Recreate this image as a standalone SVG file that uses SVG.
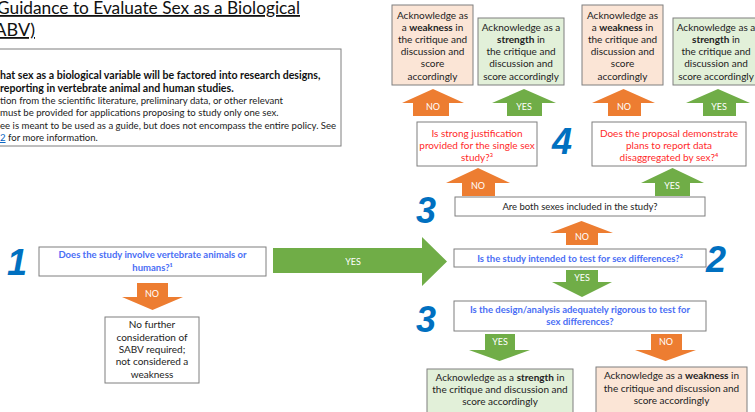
<svg xmlns="http://www.w3.org/2000/svg" width="755" height="412" viewBox="0 0 755 412">
<defs>
<style>
text{font-family:Lato,"Liberation Sans",sans-serif;}
.box{fill:#fff;stroke:#7f7f7f;stroke-width:1;}
.weak{fill:#fbe5d6;stroke:#7f7f7f;stroke-width:1;}
.str{fill:#e2f0d9;stroke:#7f7f7f;stroke-width:1;}
.t{font-size:10px;fill:#222;text-anchor:middle;}
.q{font-size:9.5px;fill:#4a6ef5;font-weight:bold;text-anchor:middle;}
.r{font-size:10px;fill:#ff2a2a;text-anchor:middle;}
.num{font-family:"Liberation Sans",Arial,sans-serif;font-size:36px;font-weight:bold;font-style:italic;fill:#0070c0;}
.lbl{font-size:9px;fill:#fff;text-anchor:middle;}
.o{fill:#ed7d31;}
.g{fill:#70ad47;}
.b{font-weight:bold;}
.info{font-size:9.6px;fill:#222;}
</style>
</defs>
<rect width="755" height="412" fill="#fff"/>

<g id="title">
<text x="-3" y="14" style="font-size:18px;fill:#111;" textLength="303" lengthAdjust="spacingAndGlyphs" text-decoration="underline">Guidance to Evaluate Sex as a Biological</text>
<text x="35" y="36" style="font-size:18px;fill:#111;" text-anchor="end" text-decoration="underline">(SABV)</text>
</g>

<g id="info">
<rect x="-5" y="49" width="346" height="97" class="box"/>
<text x="0" y="79" style="font-size:10.6px;font-weight:bold;fill:#111;">hat sex as a biological variable will be factored into research designs,</text>
<text x="0" y="92" style="font-size:10.6px;font-weight:bold;fill:#111;"> reporting in vertebrate animal and human studies.</text>
<text x="0" y="104" class="info">tion from the scientific literature, preliminary data, or other relevant</text>
<text x="0" y="116" class="info"> must be provided for applications proposing to study only one sex.</text>
<text x="0" y="129" class="info">ee is meant to be used as a guide, but does not encompass the entire policy. See</text>
<text x="0" y="141" class="info"><tspan fill="#0563c1" text-decoration="underline">2</tspan> for more information.</text>
</g>

<g id="connectors">
<polygon class="o" points="433,89 464,103 449,103 449,116 413,116 413,103 402,103"/>
<text class="lbl" x="433" y="110">NO</text>
<polygon class="g" points="524,89 556,103 542,103 542,116 507,116 507,103 492,103"/>
<text class="lbl" x="524" y="110">YES</text>
<polygon class="o" points="623.5,89 655,103 641,103 641,116 608,116 608,103 592,103"/>
<text class="lbl" x="624" y="110">NO</text>
<polygon class="g" points="718,89 750,103 736,103 736,116 703,116 703,103 686,103"/>
<text class="lbl" x="719" y="110">YES</text>
<polygon class="o" points="478,168 510,183 495,183 495,196 462,196 462,183 446,183"/>
<text class="lbl" x="478" y="189">NO</text>
<polygon class="g" points="672.5,168 704,183 690,183 690,196 655,196 655,183 641,183"/>
<text class="lbl" x="672" y="189">YES</text>
<polygon class="o" points="581.5,221 613,233 598,233 598,245 566,245 566,233 550,233"/>
<text class="lbl" x="582" y="240">NO</text>
<polygon class="g" points="566,270 598,270 598,282 612,282 582,297 552,282 566,282"/>
<text class="lbl" x="582" y="281">YES</text>
<polygon class="g" points="485,334 515,334 515,350 530,350 499.5,361 469,350 485,350"/>
<text class="lbl" x="500" y="345">YES</text>
<polygon class="o" points="651,334 682,334 682,350 696,350 665.5,361 635,350 651,350"/>
<text class="lbl" x="666" y="345">NO</text>
<polygon class="g" points="273,248 422,248 422,237 447,261.5 422,286 422,273 273,273"/>
<text class="lbl" x="353" y="265">YES</text>
<polygon class="o" points="137,283 168,283 168,297 183,297 152.5,310 122,297 137,297"/>
<text class="lbl" x="152" y="297">NO</text>
</g>

<g id="weak1">
<rect x="392" y="5" width="81" height="80" class="weak"/>
<text class="t" x="432.5" y="19">Acknowledge as</text>
<text class="t" x="432.5" y="31">a <tspan class="b">weakness</tspan> in</text>
<text class="t" x="432.5" y="43">the critique and</text>
<text class="t" x="432.5" y="55">discussion and</text>
<text class="t" x="432.5" y="67">score</text>
<text class="t" x="432.5" y="80">accordingly</text>
</g>
<g id="strength1">
<rect x="478" y="18" width="86" height="67" class="str"/>
<text class="t" x="521" y="31">Acknowledge as a</text>
<text class="t" x="521" y="43"><tspan class="b">strength</tspan> in</text>
<text class="t" x="521" y="55">the critique and</text>
<text class="t" x="521" y="67">discussion and</text>
<text class="t" x="521" y="80">score accordingly</text>
</g>
<g id="weak2">
<rect x="582" y="5" width="81" height="80" class="weak"/>
<text class="t" x="622.5" y="19">Acknowledge as</text>
<text class="t" x="622.5" y="31">a <tspan class="b">weakness</tspan> in</text>
<text class="t" x="622.5" y="43">the critique and</text>
<text class="t" x="622.5" y="55">discussion and</text>
<text class="t" x="622.5" y="67">score</text>
<text class="t" x="622.5" y="80">accordingly</text>
</g>
<g id="strength2">
<rect x="673" y="18" width="86" height="67" class="str"/>
<text class="t" x="716" y="31">Acknowledge as a</text>
<text class="t" x="716" y="43"><tspan class="b">strength</tspan> in</text>
<text class="t" x="716" y="55">the critique and</text>
<text class="t" x="716" y="67">discussion and</text>
<text class="t" x="716" y="80">score accordingly</text>
</g>

<g id="justification">
<rect x="417" y="122" width="120" height="44" class="box"/>
<text class="r" x="477" y="137">Is strong justification</text>
<text class="r" x="477" y="149">provided for the single sex</text>
<text class="r" x="477" y="161">study?³</text>
</g>
<text class="num" x="552" y="154">4</text>
<g id="disaggregated">
<rect x="592" y="122" width="154" height="44" class="box"/>
<text class="r" x="669" y="137">Does the proposal demonstrate</text>
<text class="r" x="669" y="149">plans to report data</text>
<text class="r" x="669" y="161">disaggregated by sex?⁴</text>
</g>

<g id="bothsexes">
<rect x="455" y="197" width="250" height="19" class="box"/>
<text class="t" x="580" y="210" style="font-size:9.5px;">Are both sexes included in the study?</text>
</g>
<text class="num" x="416" y="223">3</text>

<g id="q1">
<rect x="39" y="247" width="227" height="29" class="box"/>
<text class="q" x="152.5" y="258">Does the study involve vertebrate animals or</text>
<text class="q" x="152.5" y="271">humans?¹</text>
</g>
<text class="num" x="7" y="275">1</text>

<g id="nofurther">
<rect x="105" y="317" width="94" height="66" class="box"/>
<text class="t" x="152" y="328">No further</text>
<text class="t" x="152" y="341">consideration of</text>
<text class="t" x="152" y="353">SABV required;</text>
<text class="t" x="152" y="365">not considered a</text>
<text class="t" x="152" y="378">weakness</text>
</g>

<g id="q2">
<rect x="454" y="249" width="252" height="18" class="box"/>
<text class="q" x="580" y="262">Is the study intended to test for sex differences?²</text>
</g>
<text class="num" x="706" y="272">2</text>

<g id="q3">
<rect x="454" y="301" width="252" height="30" class="box"/>
<text class="q" x="580" y="313">Is the design/analysis adequately rigorous to test for</text>
<text class="q" x="580" y="325">sex differences?</text>
</g>
<text class="num" x="416" y="332">3</text>

<g id="strength3">
<rect x="427" y="369" width="146" height="50" class="str"/>
<text class="t" x="500" y="381">Acknowledge as a <tspan class="b">strength</tspan> in</text>
<text class="t" x="500" y="393">the critique and discussion and</text>
<text class="t" x="500" y="405">score accordingly</text>
</g>
<g id="weak3">
<rect x="596" y="367" width="151" height="50" class="weak"/>
<text class="t" x="671.5" y="379">Acknowledge as a <tspan class="b">weakness</tspan> in</text>
<text class="t" x="671.5" y="392">the critique and discussion and</text>
<text class="t" x="671.5" y="404">score accordingly</text>
</g>
</svg>
